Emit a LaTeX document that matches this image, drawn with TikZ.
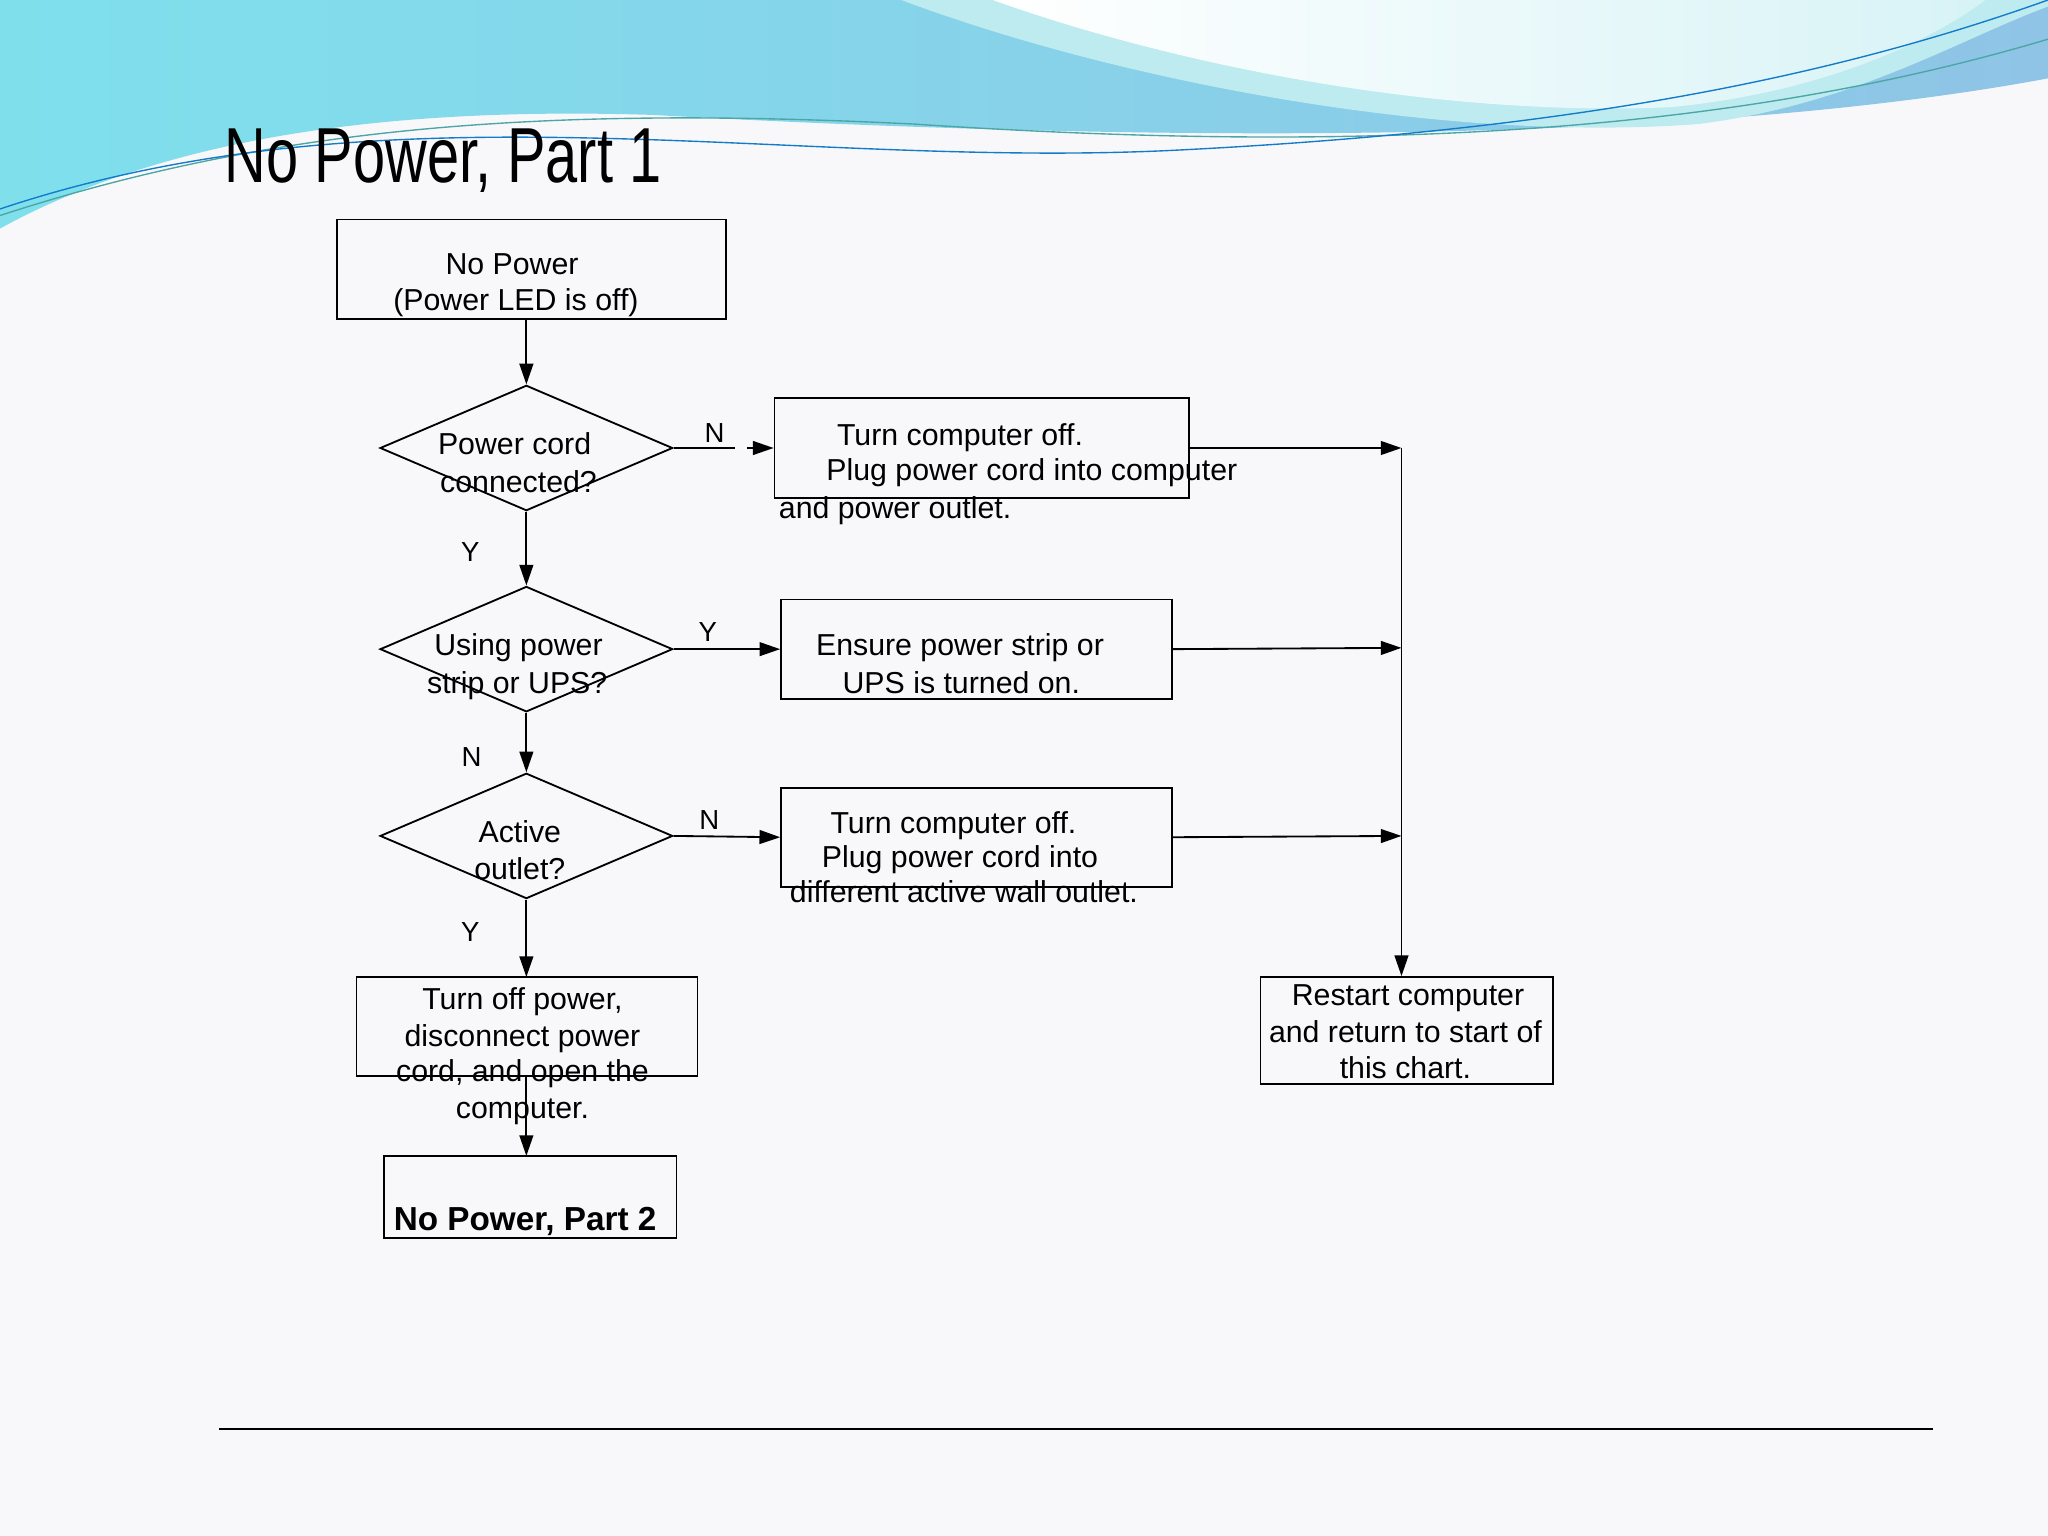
\documentclass[tikz,border=0pt]{standalone}
\usepackage{fontspec}
\setmainfont{Liberation Sans}
\usetikzlibrary{arrows.meta,shapes.geometric}
\begin{document}
\begin{tikzpicture}[x=0.02cm,y=-0.02cm,
 box/.style={draw,line width=0.8pt,inner sep=0pt},
 dia/.style={draw,line width=0.8pt},
 txt/.style={font=\fontsize{13.2}{16}\selectfont,inner sep=0pt,anchor=base},
 lab/.style={font=\fontsize{12}{14}\selectfont,inner sep=0pt,anchor=base},
 arr/.style={line width=0.8pt,-{Triangle[length=9pt,width=6pt]}}]
\definecolor{bg}{HTML}{F8F8FA}
\definecolor{cyanA}{HTML}{7FE0EC}
\definecolor{blueA}{HTML}{8FC4E6}
\definecolor{lightA}{HTML}{BDEBF0}
\useasboundingbox (0,0) rectangle (1568,1176);
\fill[bg] (0,0) rectangle (1568,1176);
% header wave
\shade[left color=cyanA,right color=blueA] (0,0)--(1568,0)--(1568,60) .. controls (1300,110) and (900,110) .. (500,88) .. controls (250,80) and (100,120) .. (0,175)--cycle;
\fill[lightA] (690,0) .. controls (850,60) and (1100,110) .. (1300,95) .. controls (1420,80) and (1500,30) .. (1568,5) -- (1568,0) -- cycle;
\shade[left color=white,right color=lightA!60] (760,0) .. controls (900,50) and (1100,90) .. (1280,82) .. controls (1400,70) and (1480,30) .. (1520,0) -- cycle;
\draw[teal!70,line width=0.6pt] (0,165) .. controls (200,100) and (400,80) .. (700,95) .. controls (1000,115) and (1300,110) .. (1568,30);
\draw[cyan!60!blue,line width=0.6pt] (0,160) .. controls (300,60) and (600,130) .. (900,115) .. controls (1200,100) and (1400,60) .. (1568,0);
% title
\node[anchor=base west,inner sep=0pt,font=\fontsize{34}{40}\selectfont,xscale=0.74] at (172,140) {No Power, Part 1};
% nodes
\node[box,minimum width=298*0.02cm,minimum height=76*0.02cm] (s) at (407,206) {};
\node[txt] at (392,210) {No Power};
\node[txt] at (395,238) {(Power LED is off)};
\node[dia,diamond,aspect=2.33,minimum width=224*0.02cm,minimum height=96*0.02cm,inner sep=0pt] (d1) at (403,343) {};
\node[txt] at (394,348) {Power cord};
\node[txt] at (397,377) {connected?};
\node[dia,diamond,aspect=2.33,minimum width=224*0.02cm,minimum height=96*0.02cm,inner sep=0pt] (d2) at (403,497) {};
\node[txt] at (397,502) {Using power};
\node[txt] at (396,531) {strip or UPS?};
\node[dia,diamond,aspect=2.33,minimum width=224*0.02cm,minimum height=96*0.02cm,inner sep=0pt] (d3) at (403,640) {};
\node[txt] at (398,645) {Active};
\node[txt] at (398,673) {outlet?};
\node[box,minimum width=317*0.02cm,minimum height=76*0.02cm] (b1) at (751.5,343) {};
\node[txt] at (735,341) {Turn computer off.};
\node[txt] at (790,368) {Plug power cord into computer};
\node[txt,anchor=base west] at (596,397) {and power outlet.};
\node[box,minimum width=299*0.02cm,minimum height=76*0.02cm] (b2) at (747.5,497) {};
\node[txt] at (735,502) {Ensure power strip or};
\node[txt] at (736,531) {UPS is turned on.};
\node[box,minimum width=299*0.02cm,minimum height=76*0.02cm] (b3) at (747.5,641) {};
\node[txt] at (730,638) {Turn computer off.};
\node[txt] at (735,664) {Plug power cord into};
\node[txt] at (738,691) {different active wall outlet.};
\node[box,minimum width=261*0.02cm,minimum height=76*0.02cm] (b4) at (403.5,786) {};
\node[txt] at (400,773) {Turn off power,};
\node[txt] at (400,801) {disconnect power};
\node[txt] at (400,828) {cord, and open the};
\node[txt] at (400,856) {computer.};
\node[box,minimum width=224*0.02cm,minimum height=63*0.02cm] (b5) at (406,916.5) {};
\node[txt,font=\fontsize{14.5}{16}\selectfont\bfseries] at (402,942) {No Power, Part 2};
\node[box,minimum width=224*0.02cm,minimum height=82*0.02cm] (r) at (1077,789) {};
\node[txt] at (1078,770) {Restart computer};
\node[txt] at (1076,798) {and return to start of};
\node[txt] at (1076,826) {this chart.};
% connectors
\draw[arr] (403,244) -- (d1.north);
\draw[arr] (d1.south) -- (d2.north);
\draw[arr] (d2.south) -- (d3.north);
\draw[arr] (d3.south) -- (403,748);
\draw[arr] (403,824) -- (403,885);
\draw[line width=0.8pt] (d1.east) -- (563,343);
\draw[arr] (572,343) -- (b1.west);
\draw[arr] (d2.east) -- (b2.west);
\draw[arr] (d3.east) -- (b3.west);
\coordinate (j1) at (1073,343);
\coordinate (j2) at (1073,496);
\coordinate (j3) at (1073,640);
\draw[arr] (b1.east) -- (j1);
\draw[arr] (b2.east) -- (j2);
\draw[arr] (b3.east) -- (j3);
\draw[arr] (j1) -- (r.north -| j1);
\node[lab] at (547,339) {N};
\node[lab] at (360,430) {Y};
\node[lab] at (542,491) {Y};
\node[lab] at (361,587) {N};
\node[lab] at (543,635) {N};
\node[lab] at (360,721) {Y};
\draw[line width=0.8pt] (168,1094) -- (1480,1094);
\end{tikzpicture}
\end{document}
